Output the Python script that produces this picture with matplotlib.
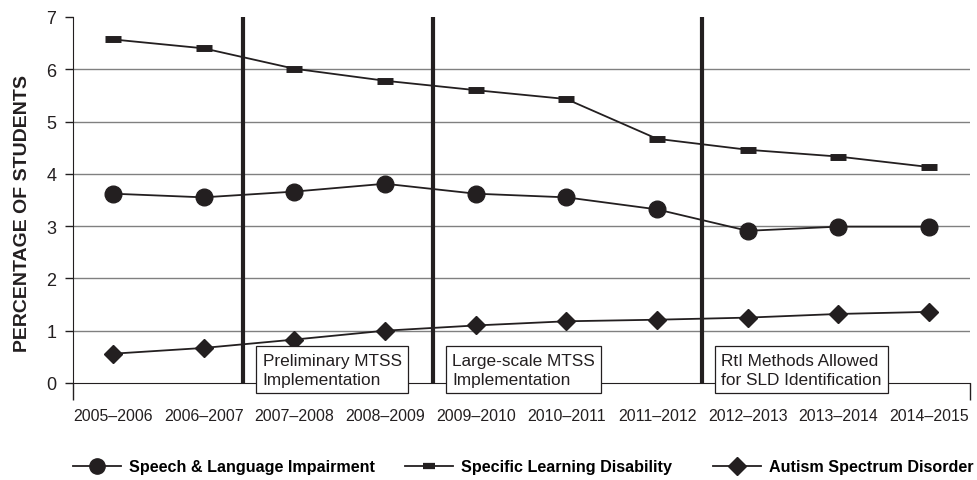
import matplotlib.pyplot as plt
from matplotlib.lines import Line2D

years = ['2005\u20132006', '2006\u20132007', '2007\u20132008', '2008\u20132009', '2009\u20132010',
         '2010\u20132011', '2011\u20132012', '2012\u20132013', '2013\u20132014', '2014\u20132015']
speech = [3.62, 3.55, 3.66, 3.81, 3.62, 3.55, 3.32, 2.91, 2.99, 2.99]
sld = [6.57, 6.40, 6.01, 5.78, 5.60, 5.43, 4.67, 4.46, 4.33, 4.13]
autism = [0.56, 0.67, 0.83, 1.00, 1.10, 1.18, 1.21, 1.25, 1.32, 1.36]

events = [1.44, 3.53, 6.5]
event_labels = ['Preliminary MTSS\nImplementation', 'Large-scale MTSS\nImplementation',
                'RtI Methods Allowed\nfor SLD Identification']

ink = '#231f20'
plt.rcParams['font.family'] = ['Liberation Sans', 'DejaVu Sans']

fig = plt.figure(figsize=(9.77, 4.81), dpi=100)
ax = fig.add_axes([0.0747, 0.2017, 0.918, 0.761])

x = list(range(len(years)))
ax.set_xlim(-0.44, 9.45)
ax.set_ylim(0, 7)

for v in range(1, 7):
    ax.axhline(v, color='#808080', lw=1.0, zorder=1)

for e in events:
    ax.axvline(e, color=ink, lw=3, zorder=2)

ax.plot(x, sld, color=ink, lw=1.3, marker='_', markersize=11, markeredgewidth=5, zorder=3)
ax.plot(x, speech, color=ink, lw=1.3, marker='o', markersize=12, zorder=3)
ax.plot(x, autism, color=ink, lw=1.3, marker='D', markersize=9, zorder=3)

for e, t in zip(events, event_labels):
    ax.text(e + 0.21, 0.25, t, fontsize=12.4, color=ink, ha='left', va='center',
            linespacing=1.32, zorder=4, clip_on=False,
            bbox=dict(boxstyle='square,pad=0.38', fc='white', ec=ink, lw=0.9))

ax.set_xticks(x)
ax.set_xticklabels(years, fontsize=11.4, color=ink)
ax.set_xticks([-0.44, 9.45], minor=True)
ax.tick_params(axis='x', which='major', length=0, pad=18)
ax.tick_params(axis='x', which='minor', length=12, width=1, color=ink)
ax.set_yticks(range(0, 8))
ax.tick_params(axis='y', labelsize=13, length=6, width=1, color=ink, labelcolor=ink, pad=6)

for s in ['top', 'right']:
    ax.spines[s].set_visible(False)
ax.spines['left'].set_color(ink)
ax.spines['bottom'].set_color(ink)

ax.set_ylabel('PERCENTAGE OF STUDENTS', fontsize=14, fontweight='bold', color=ink)
ax.yaxis.set_label_coords(-0.047, 0.467)

handles = [
    Line2D([], [], color=ink, lw=1.3, marker='o', markersize=11),
    Line2D([], [], color=ink, lw=1.3, marker='_', markersize=9, markeredgewidth=4.5),
    Line2D([], [], color=ink, lw=1.3, marker='D', markersize=9),
]
names = ['Speech & Language Impairment', 'Specific Learning Disability', 'Autism Spectrum Disorder']
legend_x = [73, 405, 713]
for h, n, lx in zip(handles, names, legend_x):
    leg = fig.legend([h], [n], loc='center left', bbox_to_anchor=(lx / 977, 1 - 468 / 481),
                     frameon=False, handlelength=3.0, handletextpad=0.5,
                     borderpad=0, borderaxespad=0,
                     prop={'weight': 'bold', 'size': 11.6})

fig.savefig('out.png', dpi=100)
